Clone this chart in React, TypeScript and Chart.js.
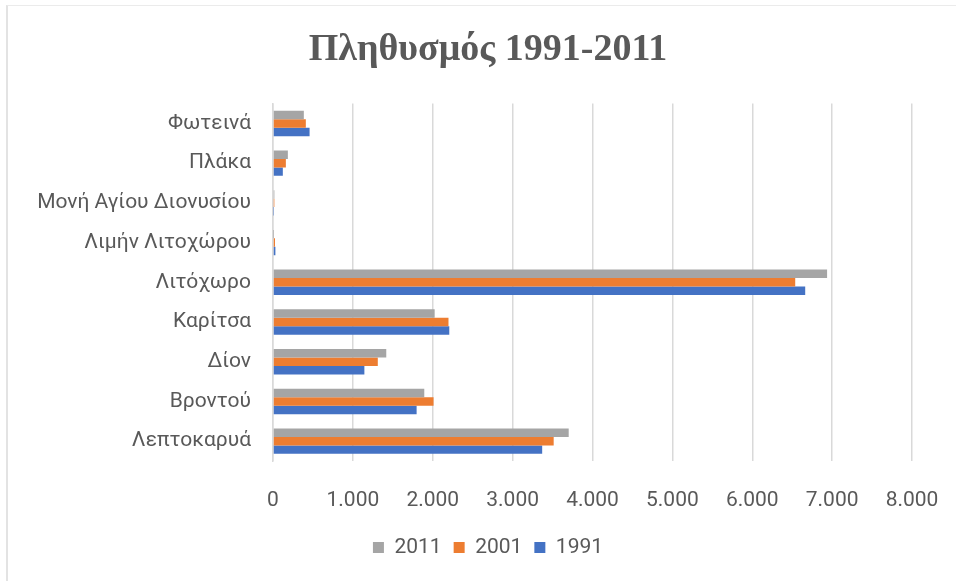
import React, { useEffect, useRef } from "react";
import { Chart, registerables } from "chart.js";

Chart.register(...registerables);

const categories = [
  "Φωτεινά",
  "Πλάκα",
  "Μονή Αγίου Διονυσίου",
  "Λιμήν Λιτοχώρου",
  "Λιτόχωρο",
  "Καρίτσα",
  "Δίον",
  "Βροντού",
  "Λεπτοκαρυά",
];

const values2011 = [386, 186, 17, 2, 6937, 2024, 1418, 1894, 3702];
const values2001 = [411, 161, 17, 25, 6538, 2197, 1312, 2010, 3514];
const values1991 = [458, 123, 4, 30, 6663, 2207, 1144, 1798, 3370];

const seriesLabels = ["2011", "2001", "1991"];
const seriesColors = ["#A5A5A5", "#ED7D31", "#4472C4"];

const titleText = "Πληθυσμός 1991-2011";
const xMax = 8000;
const xStep = 1000;

const fmt = (v: number) => String(v).replace(/\B(?=(\d{3})+(?!\d))/g, ".");

export default function App() {
  const ref = useRef<HTMLCanvasElement | null>(null);

  useEffect(() => {
    if (!ref.current) return;
    const textColor = "#595959";
    const tickFont = { family: "Roboto", size: 21 };
    const centerBlocks = {
      id: "centerBlocks",
      afterLayout(chart: any) {
        const blocks = [chart.titleBlock, chart.legend];
        for (const b of blocks) {
          if (!b) continue;
          b.left = 64;
          b.right = 912;
          b.width = 912 - 64;
        }
      },
    };
    const chart = new Chart(ref.current, {
      type: "bar",
      data: {
        labels: categories,
        datasets: [values2011, values2001, values1991].map((d, i) => ({
          label: seriesLabels[i],
          data: d,
          backgroundColor: seriesColors[i],
          borderWidth: 0,
          categoryPercentage: 0.64,
          barPercentage: 1,
        })),
      },
      options: {
        indexAxis: "y",
        animation: false,
        responsive: false,
        maintainAspectRatio: false,
        layout: { padding: { left: 16, right: 44, top: 0, bottom: 13 } },
        plugins: {
          title: {
            display: true,
            text: titleText,
            color: textColor,
            font: { family: "Liberation Serif", size: 38, weight: "bold", lineHeight: 1.2 },
            padding: { top: 27, bottom: 31 },
          },
          legend: {
            position: "bottom",
            labels: {
              color: textColor,
              font: tickFont,
              boxWidth: 11,
              boxHeight: 11,
              padding: 12,
            },
          },
          tooltip: { enabled: false },
        },
        scales: {
          x: {
            min: 0,
            max: xMax,
            ticks: {
              stepSize: xStep,
              color: textColor,
              font: tickFont,
              padding: 27,
              maxRotation: 0,
              callback: (v: any) => fmt(Number(v)),
            },
            grid: { color: "#D9D9D9", lineWidth: 1.5, drawTicks: false },
            border: { display: false },
            afterFit: (s: any) => {
              s.height = 64;
              s.paddingLeft = 0;
              s.paddingRight = 0;
            },
          },
          y: {
            ticks: { color: textColor, font: tickFont, padding: 22 },
            grid: { display: false, drawTicks: false },
            border: { display: true, color: "#D9D9D9", width: 1.5 },
            afterFit: (s: any) => {
              s.width = 273 - 16;
            },
          },
        },
      },
      plugins: [centerBlocks],
    });
    return () => chart.destroy();
  }, []);

  return (
    <div
      style={{
        position: "fixed",
        left: 0,
        top: 0,
        width: 956,
        height: 581,
        background: "#fff",
      }}
    >
      <div
        style={{
          position: "absolute",
          left: 6,
          top: 5,
          width: 950,
          height: 576,
          borderLeft: "2px solid #E3E3E3",
          borderTop: "1px solid #EBEBEB",
        }}
      />
      <canvas ref={ref} width={956} height={581} style={{ position: "absolute", left: 0, top: 0 }} />
    </div>
  );
}
